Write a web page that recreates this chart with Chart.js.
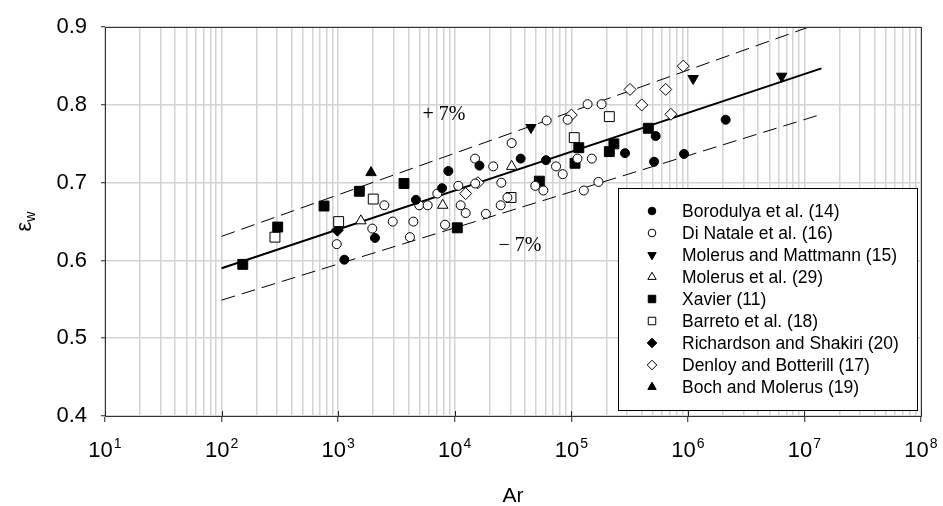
<!DOCTYPE html>
<html>
<head>
<meta charset="utf-8">
<script src="https://cdn.jsdelivr.net/npm/chart.js@4/dist/chart.umd.min.js"></script>
<style>
    html, body { margin: 0; padding: 0; background: #fff; }
    #wrap { width: 943px; height: 506px; position: relative; }
</style>
</head>
<body>
<div id="wrap"><canvas id="chart" width="943" height="506"></canvas></div>
<script>
// Correlation line and +/-7% band
const lineAr = [100, 1.4e7];
const lineEps = [0.59, 0.847];
const upperEps = [0.631, 0.906];
const lowerEps = [0.549, 0.788];

// Experimental series
const borodulyaAr = [1130, 2070, 4650, 7790, 8820, 16300, 36800, 60700, 289000, 513000, 530000, 927000, 2110000];
const borodulyaEps = [0.601, 0.629, 0.678, 0.693, 0.715, 0.722, 0.731, 0.729, 0.738, 0.727, 0.760, 0.737, 0.781];

const diNataleAr = [973, 1963, 2490, 2940, 4130, 4420, 4960, 5860, 7090, 8260, 10740, 11250, 12420, 14940, 15000,
    18500, 21400, 24800, 25100, 28300, 30800, 49100, 57600, 61500, 74000, 84400, 93000, 113000, 128000, 138000,
    150000, 171000, 182000];
const diNataleEps = [0.621, 0.641, 0.671, 0.650, 0.630, 0.650, 0.671, 0.671, 0.686, 0.646, 0.696, 0.671, 0.661, 0.731, 0.699,
    0.660, 0.721, 0.671, 0.700, 0.681, 0.751, 0.696, 0.690, 0.780, 0.721, 0.711, 0.781, 0.731, 0.690, 0.801,
    0.731, 0.701, 0.801];

const mattmannAr = [45100, 1110000, 6380000];
const mattmannEps = [0.771, 0.834, 0.837];

const molerusAr = [1567, 7890, 30800];
const molerusEps = [0.651, 0.671, 0.721];

const xavierAr = [152, 303, 757, 1520, 3670, 10520, 53200, 107700, 116000, 212000, 232000, 458000];
const xavierEps = [0.595, 0.643, 0.670, 0.689, 0.699, 0.642, 0.702, 0.725, 0.745, 0.740, 0.750, 0.770];

const barretoAr = [287, 1010, 2000, 30400, 106000, 212000];
const barretoEps = [0.630, 0.650, 0.679, 0.681, 0.758, 0.785];

const richardsonAr = [985];
const richardsonEps = [0.639];

const denloyAr = [12420, 15800, 100000, 319000, 402000, 646000, 716000, 914000];
const denloyEps = [0.686, 0.700, 0.787, 0.820, 0.800, 0.820, 0.788, 0.850];

const bochAr = [1915];
const bochEps = [0.713];

// Axis ticks
const xExponents = [1, 2, 3, 4, 5, 6, 7, 8];
const yTicks = [0.4, 0.5, 0.6, 0.7, 0.8, 0.9];

function toPoints(xs, ys) {
    return xs.map((x, i) => ({ x: x, y: ys[i] }));
}

function markerSet(label, xs, ys, style, filled, radius, rotation) {
    return {
        label: label,
        data: toPoints(xs, ys),
        showLine: false,
        pointStyle: style,
        pointRadius: radius,
        pointHoverRadius: radius,
        pointRotation: rotation || 0,
        pointBackgroundColor: filled ? '#000' : '#fff',
        pointBorderColor: '#000',
        pointBorderWidth: 1,
        legendFilled: filled,
        order: 1
    };
}

function bandLine(ys, dashed) {
    return {
        label: '',
        data: toPoints(lineAr, ys),
        showLine: true,
        borderColor: '#000',
        borderWidth: dashed ? 1 : 2,
        borderDash: dashed ? [14, 7] : [],
        pointRadius: 0,
        pointHoverRadius: 0,
        isBand: true,
        order: 5
    };
}

const datasets = [
    markerSet('Borodulya et al. (14)', borodulyaAr, borodulyaEps, 'circle', true, 4.5),
    markerSet('Di Natale et al. (16)', diNataleAr, diNataleEps, 'circle', false, 4.5),
    markerSet('Molerus and Mattmann (15)', mattmannAr, mattmannEps, 'triangle', true, 6, 180),
    markerSet('Molerus et al. (29)', molerusAr, molerusEps, 'triangle', false, 6),
    markerSet('Xavier (11)', xavierAr, xavierEps, 'rect', true, 7),
    markerSet('Barreto et al. (18)', barretoAr, barretoEps, 'rect', false, 7),
    markerSet('Richardson and Shakiri (20)', richardsonAr, richardsonEps, 'rectRot', true, 6),
    markerSet('Denloy and Botterill (17)', denloyAr, denloyEps, 'rectRot', false, 6),
    markerSet('Boch and Molerus (19)', bochAr, bochEps, 'triangle', true, 6),
    bandLine(lineEps, false),
    bandLine(upperEps, true),
    bandLine(lowerEps, true)
];

// All 1..9 x 10^n positions for the log grid
const xGridValues = [];
for (let n = 1; n <= 8; n++) {
    for (let k = 1; k <= 9; k++) {
        if (n === 8 && k > 1) break;
        xGridValues.push(k * Math.pow(10, n));
    }
}
function isMajor(v) {
    const l = Math.log10(v);
    return Math.abs(l - Math.round(l)) < 1e-9;
}

const sans = "'Liberation Sans', Arial, sans-serif";
const serif = "'Liberation Serif', 'Times New Roman', serif";

function drawMarker(ctx, style, radius, rotation, x, y) {
    if (Chart.helpers && Chart.helpers.drawPoint) {
        Chart.helpers.drawPoint(ctx, { pointStyle: style, radius: radius, rotation: rotation, borderWidth: 1 }, x, y);
    } else {
        ctx.beginPath();
        ctx.arc(x, y, radius, 0, Math.PI * 2);
        ctx.fill();
        ctx.stroke();
    }
}

const decorations = {
    id: 'decorations',
    afterDatasetsDraw(chart) {
        const ctx = chart.ctx;
        const area = chart.chartArea;
        const xs = chart.scales.x;
        ctx.save();
        // frame
        ctx.strokeStyle = '#333';
        ctx.lineWidth = 1;
        ctx.strokeRect(Math.round(area.left) + 0.5, Math.round(area.top) + 0.5,
            Math.round(area.right - area.left), Math.round(area.bottom - area.top));
        ctx.restore();
    },
    afterDraw(chart) {
        const ctx = chart.ctx;
        const area = chart.chartArea;
        const xs = chart.scales.x;
        ctx.save();

        // major x ticks poke a few pixels above the axis too
        ctx.strokeStyle = '#222';
        ctx.lineWidth = 1;
        xExponents.forEach(n => {
            const px = Math.round(xs.getPixelForValue(Math.pow(10, n))) + 0.5;
            ctx.beginPath();
            ctx.moveTo(px, area.bottom - 5);
            ctx.lineTo(px, area.bottom);
            ctx.stroke();
        });

        ctx.fillStyle = '#000';
        // x tick labels 10^n
        ctx.textBaseline = 'alphabetic';
        ctx.textAlign = 'left';
        xExponents.forEach(n => {
            const px = xs.getPixelForValue(Math.pow(10, n));
            ctx.font = '22px ' + sans;
            const w10 = ctx.measureText('10').width;
            ctx.font = '14px ' + sans;
            const wExp = ctx.measureText(String(n)).width;
            const start = px - (w10 + wExp + 1) / 2;
            ctx.font = '22px ' + sans;
            ctx.fillText('10', start, 457);
            ctx.font = '14px ' + sans;
            ctx.fillText(String(n), start + w10 + 1, 448);
        });

        // axis titles
        ctx.font = '21px ' + sans;
        ctx.textAlign = 'center';
        ctx.textBaseline = 'middle';
        ctx.fillText('Ar', (area.left + area.right) / 2, 496);

        ctx.save();
        ctx.translate(26, (area.top + area.bottom) / 2);
        ctx.rotate(-Math.PI / 2);
        ctx.font = '22px ' + sans;
        const wEps = ctx.measureText('ε').width;
        ctx.font = '14px ' + sans;
        const wW = ctx.measureText('w').width;
        const x0 = -(wEps + wW) / 2;
        ctx.textAlign = 'left';
        ctx.textBaseline = 'alphabetic';
        ctx.font = '22px ' + sans;
        ctx.fillText('ε', x0, 5);
        ctx.font = '14px ' + sans;
        ctx.fillText('w', x0 + wEps, 9);
        ctx.restore();

        // band annotations
        ctx.font = '20px ' + serif;
        ctx.textAlign = 'center';
        ctx.textBaseline = 'middle';
        ctx.fillText('+ 7%', 444, 115);
        ctx.fillText('\u2212 7%', 520, 246);

        // legend box
        const box = { left: 618, top: 188, right: 917, bottom: 410 };
        ctx.fillStyle = '#fff';
        ctx.fillRect(box.left, box.top, box.right - box.left, box.bottom - box.top);
        ctx.strokeStyle = '#000';
        ctx.lineWidth = 1;
        ctx.strokeRect(box.left + 0.5, box.top + 0.5, box.right - box.left, box.bottom - box.top);

        const items = chart.data.datasets.filter(d => !d.isBand);
        ctx.font = '17.5px ' + sans;
        ctx.textAlign = 'left';
        ctx.textBaseline = 'middle';
        items.forEach((d, i) => {
            const y = 211 + i * 22;
            ctx.fillStyle = d.legendFilled ? '#000' : '#fff';
            ctx.strokeStyle = '#000';
            ctx.lineWidth = 1;
            const r = d.pointStyle === 'circle' ? 3.8 : (d.pointStyle === 'rect' ? 5.3 : 4.8);
            drawMarker(ctx, d.pointStyle, r, d.pointRotation, 652, y);
            ctx.fillStyle = '#000';
            ctx.fillText(d.label, 682, y + 1);
        });
        ctx.restore();
    }
};

const ctx = document.getElementById('chart').getContext('2d');
const chart = new Chart(ctx, {
    type: 'scatter',
    data: { datasets: datasets },
    options: {
        responsive: false,
        maintainAspectRatio: false,
        animation: false,
        devicePixelRatio: 1,
        layout: { padding: { top: 15, right: 22, left: 0, bottom: 0 } },
        plugins: {
            legend: { display: false },
            tooltip: { enabled: false }
        },
        scales: {
            x: {
                type: 'logarithmic',
                min: 10,
                max: 1e8,
                afterBuildTicks: (scale) => {
                    scale.ticks = xGridValues.map(v => ({ value: v, major: isMajor(v) }));
                },
                afterFit: (scale) => { scale.height = 90; },
                ticks: {
                    autoSkip: false,
                    maxRotation: 0,
                    callback: () => ''
                },
                grid: {
                    color: '#d4d4d4',
                    lineWidth: 1.5,
                    tickLength: 6,
                    tickColor: (c) => (c.tick && isMajor(c.tick.value)) ? '#222' : 'rgba(0,0,0,0)',
                    tickWidth: 1
                },
                border: { color: '#333', width: 1 }
            },
            y: {
                min: 0.4,
                max: 0.9,
                afterBuildTicks: (scale) => {
                    scale.ticks = yTicks.map(v => ({ value: v }));
                },
                afterFit: (scale) => { scale.width = 105; },
                ticks: {
                    callback: (v) => Number(v).toFixed(1),
                    font: { size: 22, family: sans },
                    color: '#000',
                    padding: 14
                },
                grid: {
                    color: '#d4d4d4',
                    lineWidth: 1.5,
                    tickLength: 4,
                    tickColor: '#222',
                    tickWidth: 1
                },
                border: { color: '#333', width: 1 }
            }
        }
    },
    plugins: [decorations]
});
</script>
</body>
</html>
